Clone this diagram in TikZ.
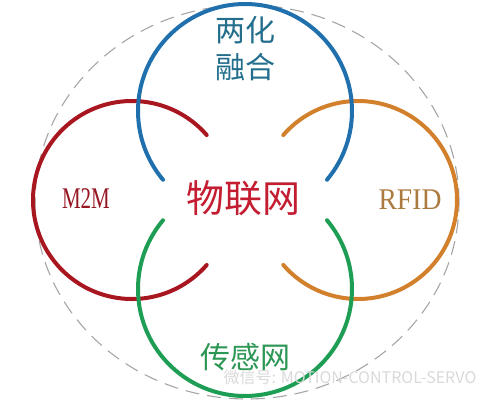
\documentclass[tikz,border=0pt]{standalone}
\usepackage{fontspec}
\setmainfont{Liberation Serif}
\newfontfamily\cjk{Noto Sans CJK SC}
\usetikzlibrary{calc, positioning}
\definecolor{ringblue}{RGB}{31,112,172}
\definecolor{ringred}{RGB}{168,22,32}
\definecolor{ringorange}{RGB}{210,128,44}
\definecolor{ringgreen}{RGB}{30,158,84}
\definecolor{txtblue}{RGB}{34,110,140}
\definecolor{txtred}{RGB}{196,28,48}
\definecolor{txtdarkred}{RGB}{150,22,34}
\definecolor{txtbrown}{RGB}{172,122,62}
\definecolor{txtgreen}{RGB}{44,150,84}
\tikzset{
  % Ring arcs
  ring/.style={line width=4pt, line cap=round},
  % Outer dashed hull
  hull/.style={draw=gray!70, line width=1.1pt, dash pattern=on 14pt off 8pt},
  % Chinese labels
  cjklabel/.style={font=\cjk\fontsize{30}{37}\selectfont, inner sep=0pt,
    align=center},
  % Centre label
  hub/.style={cjklabel, font=\cjk\fontsize{38}{44}\selectfont},
  % Latin labels
  latin/.style={font=\fontsize{30}{32}\selectfont, inner sep=0pt},
  % Watermark
  wmark/.style={font=\cjk\fontsize{16}{18}\selectfont, text=gray!30,
    inner sep=0pt},
}
\begin{document}
\begin{tikzpicture}[x=1pt, y=1pt]
  \useasboundingbox (0,0) rectangle (500,400);

  % ring centres
  \coordinate (top) at (245,289);
  \coordinate (bot) at (245,111);
  \coordinate (lft) at (132,200);
  \coordinate (rgt) at (358,200);

  \draw[hull] (247,198) ellipse [x radius=212, y radius=197];

  \draw[ring, ringred] ($(lft)+(41:99)$)
    arc[start angle=41, end angle=319, radius=99];
  \draw[ring, ringorange] ($(rgt)+(-139:99)$)
    arc[start angle=-139, end angle=139, radius=99];
  \draw[ring, ringblue] ($(top)+(-40:107)$)
    arc[start angle=-40, end angle=220, radius=107];
  \draw[ring, ringgreen] ($(bot)+(140:107)$)
    arc[start angle=140, end angle=400, radius=107];

  \node[cjklabel, text=txtblue] (fuse) at (245,351) {两化\\融合};
  \node[hub, text=txtred] (iot) at (243,202) {物联网};
  \node[latin, text=txtdarkred] (m2m) at (86,201) {\scalebox{0.7}[1]{M2M}};
  \node[latin, text=txtbrown] (rfid) at (410,200) {\scalebox{0.92}[1]{RFID}};
  \node[cjklabel, text=txtgreen] (sense) at (245,43) {传感网};
  \node[wmark] (wm) at (350,23) {微信号: MOTION-CONTROL-SERVO};
\end{tikzpicture}
\end{document}
